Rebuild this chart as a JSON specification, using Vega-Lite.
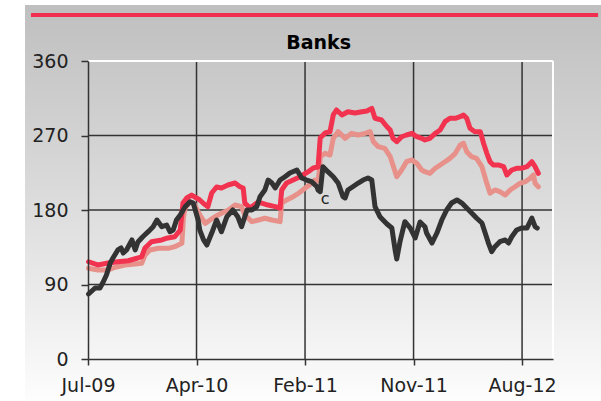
{
  "$schema": "https://vega.github.io/schema/vega-lite/v6.json",
  "autosize": {"type": "none"},
  "width": 465,
  "height": 298,
  "padding": {"left": 88, "top": 61, "right": 48, "bottom": 42},
  "background": "white",
  "config": {"view": {"stroke": null}},
  "datasets": {
    "series": [
      {"s":"b","d":1,"v":109.6},{"s":"b","d":18,"v":107.5},{"s":"b","d":37,"v":107.5},{"s":"b","d":50,"v":110.8},{"s":"b","d":68,"v":113.6},{"s":"b","d":87,"v":114.8},{"s":"b","d":99,"v":115.6},{"s":"b","d":105,"v":125.6},{"s":"b","d":114,"v":131.7},{"s":"b","d":130,"v":133.7},{"s":"b","d":148,"v":133.7},{"s":"b","d":160,"v":135.7},{"s":"b","d":173,"v":139.8},{"s":"b","d":176,"v":171.9},{"s":"b","d":179,"v":182.0},{"s":"b","d":188,"v":190.0},{"s":"b","d":197,"v":186.0},{"s":"b","d":206,"v":174.0},{"s":"b","d":216,"v":163.9},{"s":"b","d":225,"v":167.9},{"s":"b","d":234,"v":171.9},{"s":"b","d":246,"v":176.0},{"s":"b","d":259,"v":180.0},{"s":"b","d":271,"v":186.0},{"s":"b","d":283,"v":184.0},{"s":"b","d":289,"v":174.0},{"s":"b","d":302,"v":165.9},{"s":"b","d":314,"v":167.9},{"s":"b","d":326,"v":170.0},{"s":"b","d":339,"v":167.9},{"s":"b","d":354,"v":165.9},{"s":"b","d":357,"v":188.1},{"s":"b","d":366,"v":192.1},{"s":"b","d":378,"v":196.1},{"s":"b","d":388,"v":200.2},{"s":"b","d":400,"v":206.2},{"s":"b","d":412,"v":212.2},{"s":"b","d":418,"v":216.2},{"s":"b","d":424,"v":215.0},{"s":"b","d":427,"v":230.4},{"s":"b","d":428,"v":244.4},{"s":"b","d":437,"v":248.5},{"s":"b","d":446,"v":246.4},{"s":"b","d":452,"v":266.6},{"s":"b","d":461,"v":274.6},{"s":"b","d":474,"v":266.6},{"s":"b","d":486,"v":272.6},{"s":"b","d":498,"v":270.6},{"s":"b","d":511,"v":272.6},{"s":"b","d":520,"v":274.6},{"s":"b","d":526,"v":262.5},{"s":"b","d":535,"v":256.5},{"s":"b","d":547,"v":254.5},{"s":"b","d":557,"v":244.4},{"s":"b","d":563,"v":232.3},{"s":"b","d":569,"v":220.2},{"s":"b","d":578,"v":228.3},{"s":"b","d":587,"v":238.3},{"s":"b","d":597,"v":240.4},{"s":"b","d":606,"v":236.4},{"s":"b","d":615,"v":228.3},{"s":"b","d":621,"v":226.3},{"s":"b","d":630,"v":224.3},{"s":"b","d":640,"v":230.4},{"s":"b","d":649,"v":234.4},{"s":"b","d":658,"v":238.3},{"s":"b","d":667,"v":242.4},{"s":"b","d":677,"v":248.5},{"s":"b","d":686,"v":258.5},{"s":"b","d":692,"v":260.6},{"s":"b","d":698,"v":250.4},{"s":"b","d":707,"v":244.4},{"s":"b","d":716,"v":242.4},{"s":"b","d":726,"v":232.3},{"s":"b","d":735,"v":212.2},{"s":"b","d":741,"v":200.2},{"s":"b","d":750,"v":204.2},{"s":"b","d":759,"v":202.1},{"s":"b","d":769,"v":198.1},{"s":"b","d":778,"v":204.2},{"s":"b","d":787,"v":208.1},{"s":"b","d":796,"v":212.2},{"s":"b","d":806,"v":214.2},{"s":"b","d":815,"v":218.3},{"s":"b","d":821,"v":222.3},{"s":"b","d":824,"v":212.2},{"s":"b","d":830,"v":208.1},
      {"s":"a","d":1,"v":117.5},{"s":"a","d":18,"v":113.6},{"s":"a","d":37,"v":116.0},{"s":"a","d":55,"v":117.5},{"s":"a","d":74,"v":118.7},{"s":"a","d":92,"v":122.0},{"s":"a","d":99,"v":123.6},{"s":"a","d":105,"v":134.1},{"s":"a","d":117,"v":141.7},{"s":"a","d":136,"v":143.8},{"s":"a","d":147,"v":146.2},{"s":"a","d":160,"v":147.7},{"s":"a","d":170,"v":155.8},{"s":"a","d":175,"v":188.4},{"s":"a","d":182,"v":194.5},{"s":"a","d":191,"v":198.1},{"s":"a","d":200,"v":194.5},{"s":"a","d":206,"v":192.1},{"s":"a","d":214,"v":187.2},{"s":"a","d":221,"v":184.0},{"s":"a","d":228,"v":200.5},{"s":"a","d":237,"v":207.8},{"s":"a","d":246,"v":206.6},{"s":"a","d":258,"v":210.2},{"s":"a","d":271,"v":212.6},{"s":"a","d":280,"v":208.1},{"s":"a","d":286,"v":206.6},{"s":"a","d":289,"v":188.4},{"s":"a","d":299,"v":182.4},{"s":"a","d":311,"v":188.4},{"s":"a","d":320,"v":188.4},{"s":"a","d":332,"v":186.0},{"s":"a","d":345,"v":184.0},{"s":"a","d":354,"v":182.4},{"s":"a","d":357,"v":204.2},{"s":"a","d":366,"v":212.6},{"s":"a","d":378,"v":216.2},{"s":"a","d":391,"v":220.2},{"s":"a","d":406,"v":226.3},{"s":"a","d":415,"v":230.7},{"s":"a","d":424,"v":231.9},{"s":"a","d":427,"v":258.5},{"s":"a","d":428,"v":267.0},{"s":"a","d":437,"v":273.0},{"s":"a","d":446,"v":274.6},{"s":"a","d":452,"v":294.8},{"s":"a","d":458,"v":300.8},{"s":"a","d":468,"v":294.8},{"s":"a","d":479,"v":298.7},{"s":"a","d":492,"v":297.2},{"s":"a","d":505,"v":298.7},{"s":"a","d":514,"v":299.6},{"s":"a","d":523,"v":302.8},{"s":"a","d":529,"v":290.8},{"s":"a","d":541,"v":288.7},{"s":"a","d":551,"v":280.6},{"s":"a","d":557,"v":276.6},{"s":"a","d":562,"v":266.6},{"s":"a","d":569,"v":262.5},{"s":"a","d":578,"v":268.5},{"s":"a","d":587,"v":270.6},{"s":"a","d":597,"v":272.6},{"s":"a","d":606,"v":268.5},{"s":"a","d":615,"v":266.6},{"s":"a","d":621,"v":264.6},{"s":"a","d":630,"v":266.6},{"s":"a","d":640,"v":272.6},{"s":"a","d":649,"v":276.6},{"s":"a","d":658,"v":286.7},{"s":"a","d":667,"v":290.8},{"s":"a","d":677,"v":290.8},{"s":"a","d":686,"v":292.7},{"s":"a","d":692,"v":294.8},{"s":"a","d":698,"v":290.8},{"s":"a","d":704,"v":278.7},{"s":"a","d":713,"v":274.6},{"s":"a","d":723,"v":274.6},{"s":"a","d":729,"v":260.6},{"s":"a","d":735,"v":248.5},{"s":"a","d":741,"v":238.3},{"s":"a","d":747,"v":234.4},{"s":"a","d":756,"v":234.4},{"s":"a","d":766,"v":232.3},{"s":"a","d":772,"v":222.3},{"s":"a","d":781,"v":228.3},{"s":"a","d":790,"v":230.4},{"s":"a","d":799,"v":230.4},{"s":"a","d":809,"v":232.3},{"s":"a","d":818,"v":238.3},{"s":"a","d":824,"v":232.3},{"s":"a","d":830,"v":224.3},
      {"s":"c","d":1,"v":78.5},{"s":"c","d":13,"v":85.8},{"s":"c","d":22,"v":85.8},{"s":"c","d":28,"v":93.0},{"s":"c","d":34,"v":101.5},{"s":"c","d":41,"v":116.0},{"s":"c","d":46,"v":122.0},{"s":"c","d":55,"v":131.7},{"s":"c","d":61,"v":134.1},{"s":"c","d":65,"v":128.0},{"s":"c","d":71,"v":131.7},{"s":"c","d":81,"v":143.8},{"s":"c","d":87,"v":131.7},{"s":"c","d":92,"v":141.3},{"s":"c","d":101,"v":147.7},{"s":"c","d":111,"v":153.8},{"s":"c","d":120,"v":159.8},{"s":"c","d":127,"v":167.9},{"s":"c","d":136,"v":159.8},{"s":"c","d":145,"v":161.9},{"s":"c","d":151,"v":153.8},{"s":"c","d":157,"v":155.8},{"s":"c","d":163,"v":167.9},{"s":"c","d":170,"v":174.0},{"s":"c","d":179,"v":184.0},{"s":"c","d":188,"v":190.0},{"s":"c","d":194,"v":188.4},{"s":"c","d":203,"v":167.9},{"s":"c","d":206,"v":155.8},{"s":"c","d":213,"v":143.8},{"s":"c","d":219,"v":137.7},{"s":"c","d":228,"v":152.2},{"s":"c","d":237,"v":167.9},{"s":"c","d":246,"v":153.8},{"s":"c","d":256,"v":171.9},{"s":"c","d":267,"v":180.0},{"s":"c","d":276,"v":171.9},{"s":"c","d":283,"v":159.8},{"s":"c","d":293,"v":180.0},{"s":"c","d":302,"v":180.0},{"s":"c","d":311,"v":184.0},{"s":"c","d":317,"v":196.1},{"s":"c","d":326,"v":204.2},{"s":"c","d":332,"v":216.2},{"s":"c","d":339,"v":212.6},{"s":"c","d":345,"v":206.6},{"s":"c","d":354,"v":216.2},{"s":"c","d":363,"v":220.2},{"s":"c","d":372,"v":224.7},{"s":"c","d":385,"v":228.3},{"s":"c","d":394,"v":218.6},{"s":"c","d":403,"v":216.2},{"s":"c","d":412,"v":214.2},{"s":"c","d":422,"v":208.1},{"s":"c","d":424,"v":204.2},{"s":"c","d":428,"v":202.1},{"s":"c","d":433,"v":232.3},{"s":"c","d":442,"v":226.3},{"s":"c","d":452,"v":220.2},{"s":"c","d":461,"v":212.6},{"s":"c","d":470,"v":196.1},{"s":"c","d":474,"v":194.5},{"s":"c","d":479,"v":204.2},{"s":"c","d":488,"v":208.1},{"s":"c","d":498,"v":212.6},{"s":"c","d":507,"v":216.2},{"s":"c","d":516,"v":218.6},{"s":"c","d":523,"v":216.2},{"s":"c","d":529,"v":184.0},{"s":"c","d":538,"v":171.9},{"s":"c","d":551,"v":163.1},{"s":"c","d":560,"v":158.2},{"s":"c","d":566,"v":131.7},{"s":"c","d":569,"v":120.8},{"s":"c","d":575,"v":141.7},{"s":"c","d":584,"v":165.9},{"s":"c","d":594,"v":158.2},{"s":"c","d":603,"v":146.2},{"s":"c","d":612,"v":165.5},{"s":"c","d":621,"v":159.8},{"s":"c","d":624,"v":152.2},{"s":"c","d":634,"v":140.1},{"s":"c","d":643,"v":152.2},{"s":"c","d":652,"v":167.9},{"s":"c","d":661,"v":180.0},{"s":"c","d":670,"v":188.4},{"s":"c","d":680,"v":192.1},{"s":"c","d":689,"v":188.4},{"s":"c","d":698,"v":182.4},{"s":"c","d":707,"v":176.4},{"s":"c","d":716,"v":170.3},{"s":"c","d":726,"v":164.3},{"s":"c","d":732,"v":152.2},{"s":"c","d":738,"v":140.1},{"s":"c","d":744,"v":129.6},{"s":"c","d":750,"v":135.7},{"s":"c","d":759,"v":141.7},{"s":"c","d":769,"v":143.8},{"s":"c","d":775,"v":140.1},{"s":"c","d":781,"v":147.7},{"s":"c","d":790,"v":155.8},{"s":"c","d":799,"v":158.2},{"s":"c","d":809,"v":158.2},{"s":"c","d":818,"v":170.3},{"s":"c","d":824,"v":159.8},{"s":"c","d":828,"v":158.2}
    ]
  },
  "layer": [
    {
      "data": {"values": [{}]},
      "mark": {"type": "rect", "stroke": null, "fill": {"gradient": "linear", "x1": 0, "y1": 0, "x2": 0, "y2": 1, "stops": [{"offset": 0, "color": "#bfbfbf"}, {"offset": 0.5, "color": "#dcdcdc"}, {"offset": 1, "color": "#fdfdfd"}]}},
      "encoding": {
        "x": {"datum": -116.1, "type": "quantitative"},
        "x2": {"datum": 945.6},
        "y": {"datum": 427.6, "type": "quantitative"},
        "y2": {"datum": -50.7}
      }
    },
    {
      "data": {"values": [{}]},
      "mark": {"type": "rule", "color": "#f0304e", "strokeWidth": 4},
      "encoding": {
        "x": {"datum": -105.1, "type": "quantitative"},
        "x2": {"datum": 940.1},
        "y": {"datum": 415.6, "type": "quantitative"}
      }
    },
    {
      "data": {"values": [{}]},
      "mark": {"type": "text", "text": "Banks", "font": "DejaVu Sans", "fontSize": 19, "fontWeight": "bold", "color": "#000000", "align": "center", "baseline": "alphabetic"},
      "encoding": {
        "x": {"datum": 425, "type": "quantitative"},
        "y": {"datum": 374, "type": "quantitative"}
      }
    },
    {
      "data": {"values": [{"g": 200}, {"g": 400}, {"g": 600}, {"g": 800}]},
      "mark": {"type": "rule", "color": "#333333", "strokeWidth": 1.5},
      "encoding": {"x": {"field": "g", "type": "quantitative"}}
    },
    {
      "data": {"values": [{"h": 90}, {"h": 180}, {"h": 270}]},
      "mark": {"type": "rule", "color": "#333333", "strokeWidth": 1.5},
      "encoding": {"y": {"field": "h", "type": "quantitative"}}
    },
    {
      "data": {"values": [{}]},
      "mark": {"type": "rule", "color": "#ffffff", "strokeWidth": 2},
      "encoding": {"y": {"datum": 360, "type": "quantitative"}}
    },
    {
      "data": {"values": [{}]},
      "mark": {"type": "rule", "color": "#ffffff", "strokeWidth": 2},
      "encoding": {"x": {"datum": 857, "type": "quantitative"}}
    },
    {
      "data": {"name": "series"},
      "mark": {"type": "line", "strokeWidth": 5, "strokeJoin": "round", "strokeCap": "round"},
      "encoding": {
        "x": {"field": "d", "type": "quantitative", "title": null,
              "scale": {"domain": [0, 857], "nice": false, "zero": false},
              "axis": {"values": [0, 200, 400, 600, 800], "grid": false, "zindex": 1, "labelFlush": false, "labelOverlap": false,
                       "labelExpr": "datum.value == 0 ? 'Jul-09' : datum.value == 200 ? 'Apr-10' : datum.value == 400 ? 'Feb-11' : datum.value == 600 ? 'Nov-11' : 'Aug-12'",
                       "domainColor": "#333333", "domainWidth": 1.5, "tickColor": "#333333", "tickWidth": 1.5, "tickSize": 6,
                       "labelFont": "DejaVu Sans", "labelFontSize": 19, "labelColor": "#222222", "labelPadding": 11}},
        "y": {"field": "v", "type": "quantitative", "title": null,
              "scale": {"domain": [0, 360], "nice": false},
              "axis": {"values": [0, 90, 180, 270, 360], "grid": false, "zindex": 1, "labelFlush": false, "labelOverlap": false,
                       "domainColor": "#333333", "domainWidth": 1.5, "tickColor": "#333333", "tickWidth": 1.5, "tickSize": 7,
                       "labelFont": "DejaVu Sans", "labelFontSize": 19, "labelColor": "#222222", "labelPadding": 13}},
        "color": {"field": "s", "type": "nominal", "legend": null,
                  "scale": {"domain": ["b", "a", "c"], "range": ["#e8908a", "#f2334f", "#333333"]}},
        "order": {"field": "d", "type": "quantitative"}
      }
    },
    {
      "data": {"values": [{}]},
      "mark": {"type": "text", "text": "c", "font": "DejaVu Sans", "fontSize": 16, "color": "#222222"},
      "encoding": {
        "x": {"datum": 437, "type": "quantitative"},
        "y": {"datum": 193, "type": "quantitative"}
      }
    }
  ]
}
